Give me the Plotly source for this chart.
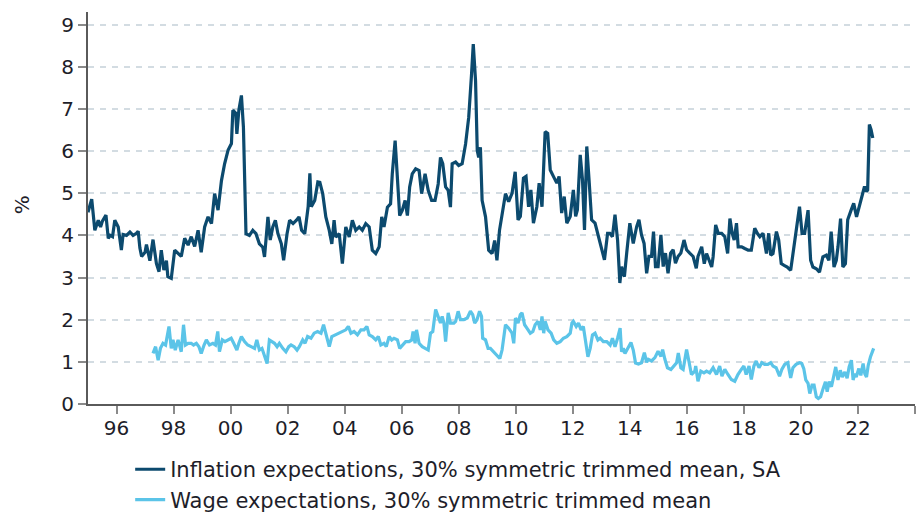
import plotly.graph_objects as go

# Inflation expectations, 30% symmetric trimmed mean, SA  (decimal years, %)
infl_year = [
    1995.00, 1995.13, 1995.24, 1995.36, 1995.44, 1995.50, 1995.63, 1995.71, 1995.78, 1995.86,
    1995.94, 1996.06, 1996.17, 1996.23, 1996.35, 1996.47, 1996.58, 1996.70, 1996.76, 1996.82,
    1996.88, 1997.00, 1997.05, 1997.17, 1997.28, 1997.40, 1997.49, 1997.57, 1997.66, 1997.75,
    1997.80, 1997.92, 1998.04, 1998.16, 1998.27, 1998.39, 1998.51, 1998.62, 1998.74, 1998.86,
    1998.97, 1999.09, 1999.21, 1999.33, 1999.44, 1999.56, 1999.68, 1999.79, 1999.91, 2000.03,
    2000.08, 2000.18, 2000.22, 2000.29, 2000.38, 2000.45, 2000.54, 2000.66, 2000.78, 2000.89,
    2001.01, 2001.13, 2001.19, 2001.31, 2001.39, 2001.48, 2001.57, 2001.66, 2001.78, 2001.86,
    2001.98, 2002.07, 2002.19, 2002.31, 2002.40, 2002.49, 2002.60, 2002.72, 2002.78, 2002.83,
    2002.95, 2003.06, 2003.13, 2003.23, 2003.34, 2003.46, 2003.55, 2003.63, 2003.69, 2003.81,
    2003.92, 2004.04, 2004.16, 2004.27, 2004.39, 2004.51, 2004.62, 2004.74, 2004.86, 2004.97,
    2005.09, 2005.21, 2005.30, 2005.38, 2005.50, 2005.61, 2005.67, 2005.77, 2005.85, 2005.93,
    2006.02, 2006.12, 2006.20, 2006.28, 2006.37, 2006.49, 2006.61, 2006.70, 2006.82, 2006.93,
    2007.05, 2007.17, 2007.28, 2007.36, 2007.44, 2007.54, 2007.63, 2007.71, 2007.77, 2007.89,
    2008.00, 2008.12, 2008.24, 2008.35, 2008.45, 2008.51, 2008.59, 2008.65, 2008.70, 2008.76,
    2008.82, 2008.94, 2009.05, 2009.17, 2009.26, 2009.34, 2009.43, 2009.52, 2009.64, 2009.75,
    2009.87, 2009.98, 2010.08, 2010.16, 2010.27, 2010.36, 2010.45, 2010.53, 2010.62, 2010.74,
    2010.82, 2010.92, 2011.03, 2011.12, 2011.21, 2011.32, 2011.44, 2011.52, 2011.61, 2011.70,
    2011.79, 2011.91, 2012.02, 2012.10, 2012.16, 2012.26, 2012.34, 2012.41, 2012.49, 2012.57,
    2012.66, 2012.78, 2012.90, 2013.01, 2013.11, 2013.22, 2013.30, 2013.39, 2013.48, 2013.57,
    2013.65, 2013.71, 2013.81, 2013.89, 2014.00, 2014.12, 2014.24, 2014.32, 2014.41, 2014.50,
    2014.59, 2014.67, 2014.76, 2014.83, 2014.90, 2014.99, 2015.09, 2015.17, 2015.25, 2015.34,
    2015.43, 2015.52, 2015.60, 2015.69, 2015.79, 2015.90, 2015.99, 2016.10, 2016.22, 2016.33,
    2016.39, 2016.52, 2016.61, 2016.69, 2016.77, 2016.87, 2016.92, 2017.01, 2017.10, 2017.22,
    2017.33, 2017.43, 2017.51, 2017.59, 2017.66, 2017.74, 2017.80, 2017.92, 2018.03, 2018.15,
    2018.26, 2018.38, 2018.47, 2018.56, 2018.67, 2018.79, 2018.87, 2018.94, 2019.02, 2019.14,
    2019.22, 2019.31, 2019.41, 2019.52, 2019.64, 2019.72, 2019.84, 2019.95, 2020.04, 2020.13,
    2020.25, 2020.34, 2020.42, 2020.54, 2020.65, 2020.77, 2020.89, 2020.98, 2021.06, 2021.16,
    2021.24, 2021.30, 2021.39, 2021.47, 2021.56, 2021.64, 2021.76, 2021.85, 2021.95, 2022.05,
    2022.15, 2022.23, 2022.30, 2022.34, 2022.40, 2022.46, 2022.52,
]
infl_value = [
    4.55, 4.86, 4.12, 4.36, 4.20, 4.33, 4.48, 3.93, 4.00, 3.97,
    4.36, 4.20, 3.65, 4.02, 4.00, 4.08, 4.00, 4.05, 4.10, 3.70,
    3.50, 3.60, 3.78, 3.40, 3.90, 3.33, 3.14, 3.65, 3.18, 3.40,
    3.02, 2.98, 3.65, 3.57, 3.50, 3.93, 3.77, 3.97, 3.74, 4.12,
    3.60, 4.20, 4.44, 4.28, 4.99, 4.60, 5.30, 5.70, 6.02, 6.18,
    6.97, 6.90, 6.41, 6.97, 7.32, 6.57, 4.04, 4.00, 4.12, 4.04,
    3.80, 3.72, 3.49, 4.44, 3.89, 4.20, 4.36, 4.04, 3.80, 3.41,
    4.04, 4.36, 4.28, 4.36, 4.44, 4.12, 4.04, 4.68, 5.47, 4.68,
    4.83, 5.27, 5.26, 4.99, 4.44, 4.12, 3.80, 4.36, 3.96, 4.04,
    3.33, 4.20, 3.96, 4.36, 4.12, 4.20, 4.12, 4.28, 4.20, 3.65,
    3.57, 3.73, 4.44, 4.20, 4.67, 4.75, 5.46, 6.25, 5.46, 4.47,
    4.59, 4.83, 4.47, 5.15, 5.46, 5.58, 5.54, 4.99, 5.46, 5.07,
    4.83, 4.83, 5.22, 5.85, 5.70, 5.15, 5.07, 4.67, 5.70, 5.74,
    5.66, 5.70, 6.17, 6.80, 7.83, 8.54, 7.67, 6.01, 5.85, 6.09,
    4.83, 4.44, 3.65, 3.57, 3.88, 3.41, 4.12, 4.51, 4.99, 4.80,
    5.00, 5.51, 4.37, 4.45, 5.36, 5.40, 4.68, 5.08, 4.29, 4.68,
    5.24, 4.68, 6.46, 6.42, 5.55, 5.40, 5.24, 5.40, 4.53, 4.92,
    4.29, 4.45, 5.08, 4.45, 4.60, 5.91, 5.32, 4.13, 6.11, 5.32,
    4.37, 4.29, 3.97, 3.66, 3.42, 4.05, 4.05, 3.97, 4.49, 3.89,
    2.87, 3.26, 3.02, 3.58, 4.29, 3.81, 4.21, 4.37, 4.01, 3.81,
    3.10, 3.50, 3.50, 4.09, 3.26, 3.26, 4.01, 3.26, 3.58, 3.10,
    3.58, 3.66, 3.34, 3.50, 3.58, 3.89, 3.66, 3.58, 3.50, 3.22,
    3.50, 3.73, 3.33, 3.57, 3.41, 3.25, 3.49, 4.25, 4.05, 4.05,
    3.97, 3.57, 4.40, 4.05, 3.89, 4.29, 3.73, 3.73, 3.69, 3.65,
    3.65, 4.17, 4.05, 3.97, 4.05, 3.57, 4.05, 3.53, 3.57, 4.09,
    3.89, 3.33, 3.29, 3.25, 3.17, 3.57, 4.05, 4.68, 4.05, 4.05,
    4.60, 3.41, 3.25, 3.21, 3.13, 3.49, 3.53, 3.41, 4.09, 3.25,
    3.41, 3.73, 4.40, 3.25, 3.33, 4.37, 4.60, 4.76, 4.44, 4.68,
    4.92, 5.16, 5.04, 5.08, 6.63, 6.51, 6.31,
]

# Wage expectations, 30% symmetric trimmed mean  (decimal years, %)
wage_year = [
    1997.28, 1997.37, 1997.46, 1997.54, 1997.63, 1997.72, 1997.84, 1997.92, 1997.98, 1998.06,
    1998.16, 1998.27, 1998.35, 1998.42, 1998.51, 1998.62, 1998.70, 1998.80, 1998.89, 1998.97,
    1999.07, 1999.15, 1999.26, 1999.38, 1999.47, 1999.55, 1999.61, 1999.71, 1999.80, 1999.90,
    2000.02, 2000.11, 2000.22, 2000.29, 2000.38, 2000.49, 2000.60, 2000.72, 2000.84, 2000.92,
    2001.01, 2001.10, 2001.19, 2001.28, 2001.36, 2001.45, 2001.54, 2001.63, 2001.71, 2001.83,
    2001.94, 2002.04, 2002.12, 2002.23, 2002.33, 2002.41, 2002.53, 2002.61, 2002.70, 2002.82,
    2002.93, 2003.05, 2003.17, 2003.26, 2003.34, 2003.46, 2003.55, 2003.67, 2003.79, 2003.90,
    2004.04, 2004.13, 2004.22, 2004.33, 2004.45, 2004.57, 2004.68, 2004.78, 2004.86, 2004.97,
    2005.09, 2005.18, 2005.27, 2005.38, 2005.46, 2005.56, 2005.65, 2005.73, 2005.85, 2005.93,
    2006.02, 2006.14, 2006.26, 2006.35, 2006.40, 2006.47, 2006.52, 2006.61, 2006.72, 2006.84,
    2006.93, 2007.01, 2007.09, 2007.19, 2007.28, 2007.36, 2007.42, 2007.48, 2007.54, 2007.63,
    2007.71, 2007.83, 2007.89, 2007.98, 2008.06, 2008.18, 2008.30, 2008.41, 2008.49, 2008.56,
    2008.64, 2008.73, 2008.80, 2008.84, 2008.94, 2009.03, 2009.11, 2009.23, 2009.34, 2009.44,
    2009.52, 2009.58, 2009.64, 2009.75, 2009.87, 2009.93, 2009.99, 2010.08, 2010.16, 2010.22,
    2010.31, 2010.39, 2010.51, 2010.60, 2010.68, 2010.78, 2010.86, 2010.92, 2010.98, 2011.03,
    2011.13, 2011.24, 2011.33, 2011.44, 2011.56, 2011.67, 2011.79, 2011.91, 2011.97, 2012.02,
    2012.12, 2012.20, 2012.29, 2012.37, 2012.46, 2012.53, 2012.61, 2012.69, 2012.78, 2012.88,
    2012.96, 2013.07, 2013.19, 2013.31, 2013.39, 2013.48, 2013.57, 2013.66, 2013.71, 2013.77,
    2013.83, 2013.95, 2014.04, 2014.12, 2014.20, 2014.30, 2014.41, 2014.51, 2014.59, 2014.65,
    2014.76, 2014.88, 2014.99, 2015.09, 2015.15, 2015.23, 2015.32, 2015.44, 2015.56, 2015.64,
    2015.70, 2015.79, 2015.87, 2015.99, 2016.07, 2016.16, 2016.28, 2016.31, 2016.39, 2016.49,
    2016.60, 2016.69, 2016.80, 2016.92, 2017.04, 2017.15, 2017.23, 2017.33, 2017.44, 2017.56,
    2017.68, 2017.79, 2017.91, 2018.00, 2018.08, 2018.18, 2018.26, 2018.35, 2018.43, 2018.53,
    2018.63, 2018.73, 2018.84, 2018.94, 2019.02, 2019.13, 2019.25, 2019.33, 2019.43, 2019.54,
    2019.64, 2019.72, 2019.83, 2019.95, 2020.03, 2020.10, 2020.17, 2020.25, 2020.31, 2020.39,
    2020.46, 2020.54, 2020.61, 2020.69, 2020.78, 2020.86, 2020.92, 2020.99, 2021.07, 2021.15,
    2021.22, 2021.30, 2021.38, 2021.45, 2021.54, 2021.62, 2021.69, 2021.77, 2021.83, 2021.89,
    2021.94, 2022.03, 2022.10, 2022.18, 2022.24, 2022.30, 2022.36, 2022.44, 2022.51, 2022.55,
]
wage_value = [
    1.20, 1.36, 1.04, 1.32, 1.44, 1.40, 1.84, 1.32, 1.52, 1.28,
    1.52, 1.24, 1.88, 1.40, 1.44, 1.44, 1.40, 1.44, 1.36, 1.20,
    1.40, 1.52, 1.40, 1.44, 1.40, 1.72, 1.24, 1.52, 1.48, 1.52,
    1.56, 1.44, 1.28, 1.44, 1.60, 1.48, 1.40, 1.36, 1.32, 1.52,
    1.28, 1.32, 1.16, 0.96, 1.52, 1.48, 1.44, 1.36, 1.44, 1.32,
    1.24, 1.36, 1.40, 1.36, 1.28, 1.36, 1.52, 1.44, 1.60, 1.56,
    1.68, 1.72, 1.68, 1.88, 1.64, 1.36, 1.60, 1.64, 1.68, 1.72,
    1.76, 1.84, 1.68, 1.72, 1.64, 1.76, 1.76, 1.84, 1.64, 1.60,
    1.52, 1.60, 1.40, 1.44, 1.36, 1.60, 1.52, 1.56, 1.52, 1.32,
    1.40, 1.48, 1.48, 1.52, 1.72, 1.44, 1.76, 1.44, 1.36, 1.32,
    1.28, 1.68, 1.72, 2.24, 2.04, 1.92, 2.08, 1.92, 1.48, 2.16,
    1.92, 1.92, 1.96, 2.20, 2.00, 2.00, 2.04, 2.20, 2.12, 1.92,
    2.00, 2.20, 2.08, 1.56, 1.52, 1.32, 1.32, 1.24, 1.16, 1.08,
    1.28, 1.60, 1.88, 1.80, 1.68, 1.44, 2.04, 1.92, 2.12, 2.16,
    1.88, 1.80, 1.68, 1.72, 1.88, 1.96, 1.76, 2.08, 1.68, 1.96,
    1.76, 1.68, 1.52, 1.44, 1.48, 1.56, 1.60, 1.68, 1.92, 1.96,
    1.84, 1.92, 1.76, 1.84, 1.44, 1.12, 1.32, 1.64, 1.68, 1.52,
    1.56, 1.48, 1.48, 1.40, 1.56, 1.36, 1.56, 1.80, 1.24, 1.32,
    1.20, 1.36, 1.46, 1.28, 0.97, 0.95, 0.98, 1.22, 0.99, 1.06,
    1.02, 1.10, 1.25, 1.13, 1.29, 1.06, 0.86, 0.82, 0.90, 0.98,
    1.21, 0.86, 0.82, 1.29, 1.02, 0.70, 0.78, 0.90, 0.54, 0.78,
    0.74, 0.78, 0.74, 0.86, 0.70, 0.90, 0.66, 0.82, 0.70, 0.58,
    0.54, 0.70, 0.82, 0.90, 0.70, 0.90, 0.58, 0.90, 1.02, 0.86,
    0.98, 0.94, 0.94, 0.98, 0.90, 0.86, 0.66, 0.82, 0.94, 0.98,
    0.62, 0.86, 0.94, 0.98, 0.96, 0.84, 0.57, 0.49, 0.25, 0.45,
    0.45, 0.17, 0.13, 0.17, 0.37, 0.53, 0.29, 0.53, 0.41, 0.72,
    0.88, 0.57, 0.80, 0.64, 0.76, 0.61, 0.88, 1.04, 0.57, 0.72,
    0.64, 0.84, 0.68, 0.96, 0.72, 0.64, 0.92, 1.12, 1.28, 1.32,
]

x_tick_years = [1996, 1998, 2000, 2002, 2004, 2006, 2008, 2010, 2012, 2014, 2016, 2018, 2020, 2022, 2024]
x_tick_labels = ["96", "98", "00", "02", "04", "06", "08", "10", "12", "14", "16", "18", "20", "22", ""]
y_ticks = [0, 1, 2, 3, 4, 5, 6, 7, 8, 9]

names = ["Inflation expectations, 30% symmetric trimmed mean, SA",
         "Wage expectations, 30% symmetric trimmed mean"]

DARK = "#0c4a6e"
LIGHT = "#5bc4e8"
FONT = "DejaVu Sans"
TXT = "#1e1e2a"

fig = go.Figure()
fig.add_trace(go.Scatter(x=infl_year, y=infl_value, mode="lines", name=names[0],
                         line=dict(color=DARK, width=3.2), legendgroup="a"))
fig.add_trace(go.Scatter(x=wage_year, y=wage_value, mode="lines", name=names[1],
                         line=dict(color=LIGHT, width=3.2), legendgroup="b"))

fig.update_layout(
    width=916, height=516,
    margin=dict(l=88, r=1, t=12, b=112, autoexpand=False),
    paper_bgcolor="white", plot_bgcolor="white",
    font=dict(family=FONT, size=20, color=TXT),
    showlegend=True,
    legend=dict(x=0.051, y=-0.115, xanchor="left", yanchor="top",
                orientation="v", traceorder="grouped", tracegroupgap=0,
                font=dict(family=FONT, size=21, color=TXT),
                bgcolor="rgba(0,0,0,0)", itemwidth=30),
    xaxis=dict(range=[1995, 2024], tickmode="array", tickvals=x_tick_years,
               ticktext=x_tick_labels, showgrid=False, zeroline=False, automargin=False,
               showline=True, linecolor="#5a5a5a", linewidth=2,
               ticks="outside", ticklen=8, tickwidth=2, tickcolor="#8a8a8a",
               ticklabelstandoff=-3,
               tickfont=dict(family=FONT, size=20, color=TXT)),
    yaxis=dict(range=[0, 9.3], tickmode="array", tickvals=y_ticks, automargin=False,
               showgrid=True, gridcolor="#d3dce2", gridwidth=2, griddash="6px,6px",
               zeroline=False, showline=True, linecolor="#5a5a5a", linewidth=2,
               ticks="outside", ticklen=8, tickwidth=2, tickcolor="#8a8a8a",
               tickfont=dict(family=FONT, size=20, color=TXT)),
    annotations=[dict(text="%", xref="paper", yref="paper",
                      x=(22 - 88) / 827, y=0.507, xanchor="center", yanchor="middle",
                      textangle=-90, showarrow=False,
                      font=dict(family=FONT, size=20, color=TXT))],
)

fig.write_html("out.html",
               config={"displayModeBar": False},
               post_script="document.body.style.margin='0';document.body.style.padding='0';")
